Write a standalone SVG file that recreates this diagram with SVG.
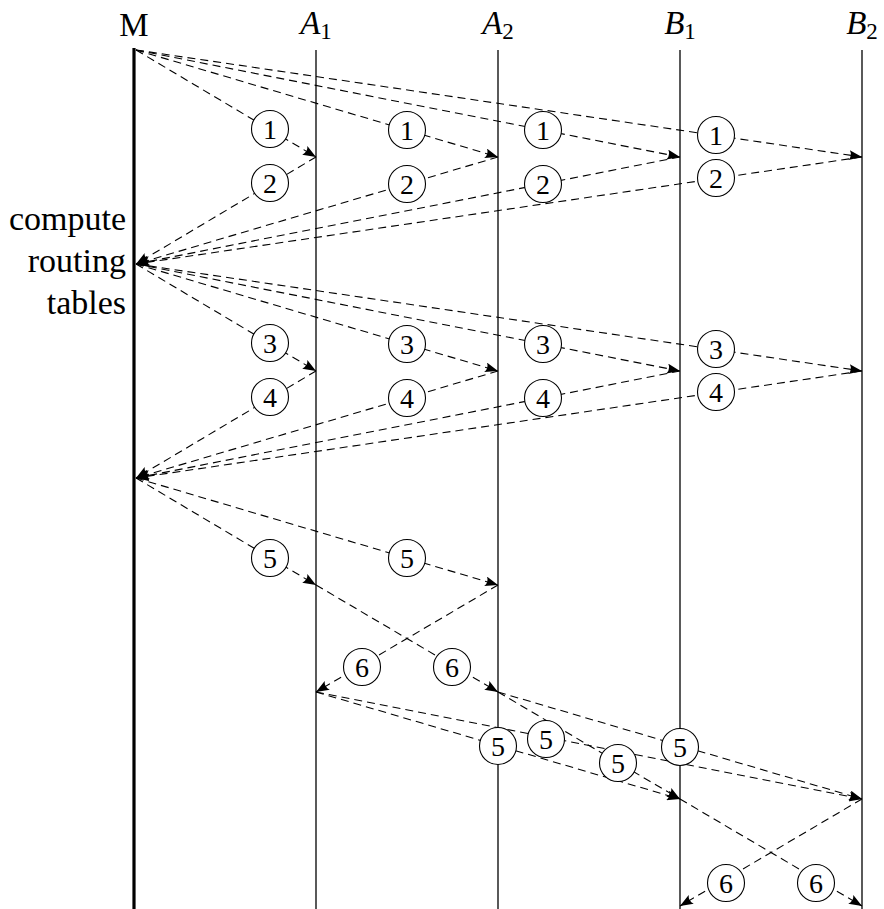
<svg xmlns="http://www.w3.org/2000/svg" width="884" height="909" viewBox="0 0 884 909">
<style>
  .life { stroke: #000; stroke-width: 1.3; fill: none; }
  .thick { stroke: #000; stroke-width: 3.2; fill: none; }
  .msg { stroke: #000; stroke-width: 1.1; stroke-dasharray: 8 5; fill: none; marker-end: url(#ah); }
  .lbl circle { fill: #fff; stroke: #000; stroke-width: 1.1; }
  .lbl text { font-family: "Liberation Serif", "DejaVu Serif", serif; font-size: 28px; text-anchor: middle; fill: #000; }
  .hd { font-family: "Liberation Serif", "DejaVu Serif", serif; font-size: 33px; text-anchor: middle; fill: #000; }
  .side { font-family: "Liberation Serif", "DejaVu Serif", serif; font-size: 34px; text-anchor: end; fill: #000; }
</style>
<defs>
  <marker id="ah" markerUnits="userSpaceOnUse" markerWidth="14" markerHeight="10" refX="13" refY="5" orient="auto">
    <path d="M0,0 L13,5 L0,10 Q3.5,5 0,0 Z" fill="#000"/>
  </marker>
</defs>
<rect width="884" height="909" fill="#fff"/>

<g id="node-M">
  <text class="hd" x="134" y="36">M</text>
  <line class="thick" x1="134" y1="48" x2="134" y2="909"/>
  <text class="side" x="126" y="230">compute</text>
  <text class="side" x="126" y="272">routing</text>
  <text class="side" x="126" y="314">tables</text>
</g>
<g id="node-A1">
  <text class="hd" x="316" y="34"><tspan font-style="italic">A</tspan><tspan font-size="23" dy="5">1</tspan></text>
  <line class="life" x1="316" y1="50" x2="316" y2="909"/>
</g>
<g id="node-A2">
  <text class="hd" x="498" y="34"><tspan font-style="italic">A</tspan><tspan font-size="23" dy="5">2</tspan></text>
  <line class="life" x1="498" y1="50" x2="498" y2="909"/>
</g>
<g id="node-B1">
  <text class="hd" x="680" y="34"><tspan font-style="italic">B</tspan><tspan font-size="23" dy="5">1</tspan></text>
  <line class="life" x1="680" y1="50" x2="680" y2="909"/>
</g>
<g id="node-B2">
  <text class="hd" x="862" y="34"><tspan font-style="italic">B</tspan><tspan font-size="23" dy="5">2</tspan></text>
  <line class="life" x1="862" y1="50" x2="862" y2="909"/>
</g>

<g id="connectors">
  <!-- phase 1 -->
  <line class="msg" x1="136" y1="50" x2="316" y2="157"/>
  <line class="msg" x1="136" y1="50" x2="498" y2="157"/>
  <line class="msg" x1="136" y1="50" x2="680" y2="157"/>
  <line class="msg" x1="136" y1="50" x2="862" y2="157"/>
  <!-- phase 2 -->
  <line class="msg" x1="316" y1="157" x2="136" y2="264"/>
  <line class="msg" x1="498" y1="157" x2="136" y2="264"/>
  <line class="msg" x1="680" y1="157" x2="136" y2="264"/>
  <line class="msg" x1="862" y1="157" x2="136" y2="264"/>
  <!-- phase 3 -->
  <line class="msg" x1="136" y1="264" x2="316" y2="371"/>
  <line class="msg" x1="136" y1="264" x2="498" y2="371"/>
  <line class="msg" x1="136" y1="264" x2="680" y2="371"/>
  <line class="msg" x1="136" y1="264" x2="862" y2="371"/>
  <!-- phase 4 -->
  <line class="msg" x1="316" y1="371" x2="136" y2="478"/>
  <line class="msg" x1="498" y1="371" x2="136" y2="478"/>
  <line class="msg" x1="680" y1="371" x2="136" y2="478"/>
  <line class="msg" x1="862" y1="371" x2="136" y2="478"/>
  <!-- phase 5 -->
  <line class="msg" x1="136" y1="478" x2="316" y2="585"/>
  <line class="msg" x1="136" y1="478" x2="498" y2="585"/>
  <!-- phase 6 -->
  <line class="msg" x1="316" y1="585" x2="498" y2="692"/>
  <line class="msg" x1="498" y1="585" x2="316" y2="692"/>
  <!-- phase 5b -->
  <line class="msg" x1="316" y1="692" x2="680" y2="799"/>
  <line class="msg" x1="316" y1="692" x2="862" y2="799"/>
  <line class="msg" x1="498" y1="692" x2="680" y2="799"/>
  <line class="msg" x1="498" y1="692" x2="862" y2="799"/>
  <!-- phase 6b -->
  <line class="msg" x1="680" y1="799" x2="862" y2="906"/>
  <line class="msg" x1="862" y1="799" x2="680" y2="906"/>

  <g class="lbl">
    <circle cx="270" cy="129" r="18.5"/><text x="270" y="139">1</text>
    <circle cx="407" cy="130" r="18.5"/><text x="407" y="140">1</text>
    <circle cx="543" cy="130" r="18.5"/><text x="543" y="140">1</text>
    <circle cx="716" cy="135" r="18.5"/><text x="716" y="145">1</text>

    <circle cx="270" cy="183" r="18.5"/><text x="270" y="193">2</text>
    <circle cx="407" cy="184" r="18.5"/><text x="407" y="194">2</text>
    <circle cx="543" cy="184" r="18.5"/><text x="543" y="194">2</text>
    <circle cx="716" cy="178" r="18.5"/><text x="716" y="188">2</text>

    <circle cx="270" cy="343" r="18.5"/><text x="270" y="353">3</text>
    <circle cx="407" cy="344" r="18.5"/><text x="407" y="354">3</text>
    <circle cx="543" cy="344" r="18.5"/><text x="543" y="354">3</text>
    <circle cx="716" cy="349" r="18.5"/><text x="716" y="359">3</text>

    <circle cx="270" cy="397" r="18.5"/><text x="270" y="407">4</text>
    <circle cx="407" cy="398" r="18.5"/><text x="407" y="408">4</text>
    <circle cx="543" cy="398" r="18.5"/><text x="543" y="408">4</text>
    <circle cx="716" cy="392" r="18.5"/><text x="716" y="402">4</text>

    <circle cx="270" cy="558" r="18.5"/><text x="270" y="568">5</text>
    <circle cx="407" cy="558" r="18.5"/><text x="407" y="568">5</text>

    <circle cx="362" cy="667" r="18.5"/><text x="362" y="677">6</text>
    <circle cx="452" cy="667" r="18.5"/><text x="452" y="677">6</text>

    <circle cx="498" cy="746" r="18.5"/><text x="498" y="756">5</text>
    <circle cx="546" cy="739" r="18.5"/><text x="546" y="749">5</text>
    <circle cx="618" cy="763" r="18.5"/><text x="618" y="773">5</text>
    <circle cx="680" cy="747" r="18.5"/><text x="680" y="757">5</text>

    <circle cx="726" cy="883" r="18.5"/><text x="726" y="893">6</text>
    <circle cx="816" cy="883" r="18.5"/><text x="816" y="893">6</text>
  </g>
</g>
</svg>
